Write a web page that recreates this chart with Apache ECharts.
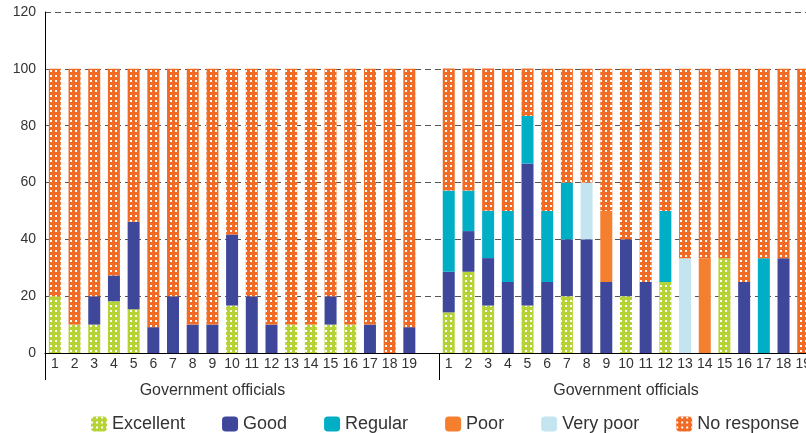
<!DOCTYPE HTML>
<html>
<meta charset="utf-8"/>
<script src="https://cdn.jsdelivr.net/npm/echarts@6/dist/echarts.min.js"></script>
<style>
  body { margin: 0; background: #fff; overflow: hidden; }
</style>
<!-- the original is cropped on the right, so the chart is a bit wider than the window -->
<div id="main" style="width: 814px;height:433px;"></div>
<script>
// tick labels of the two groups (respondents 1..19)
var leftLabels  = ['1','2','3','4','5','6','7','8','9','10','11','12','13','14','15','16','17','18','19'];
var rightLabels = ['1','2','3','4','5','6','7','8','9','10','11','12','13','14','15','16','17','18','19'];
var groupName = 'Government officials';
var yTicks = [0, 20, 40, 60, 80, 100, 120];

// left group, %
var leftExcellent  = [20, 10, 10, 18.2, 15.4, 0, 0, 0, 0, 16.7, 0, 0, 10, 10, 10, 10, 0, 0, 0];
var leftGood       = [0, 0, 10, 9.1, 30.8, 9.1, 20, 10, 10, 25, 20, 10, 0, 0, 10, 0, 10, 0, 9.1];
var leftRegular    = [0, 0, 0, 0, 0, 0, 0, 0, 0, 0, 0, 0, 0, 0, 0, 0, 0, 0, 0];
var leftPoor       = [0, 0, 0, 0, 0, 0, 0, 0, 0, 0, 0, 0, 0, 0, 0, 0, 0, 0, 0];
var leftVeryPoor   = [0, 0, 0, 0, 0, 0, 0, 0, 0, 0, 0, 0, 0, 0, 0, 0, 0, 0, 0];
var leftNoResponse = [80, 90, 80, 72.7, 53.8, 90.9, 80, 90, 90, 58.3, 80, 90, 90, 90, 80, 90, 90, 100, 90.9];

// right group, %
var rightExcellent  = [14.3, 28.6, 16.7, 0, 16.7, 0, 20, 0, 0, 20, 0, 25, 0, 0, 33.3, 0, 0, 0, 0];
var rightGood       = [14.3, 14.3, 16.7, 25, 50, 25, 20, 40, 25, 20, 25, 0, 0, 0, 0, 25, 0, 33.3, 0];
var rightRegular    = [28.6, 14.3, 16.7, 25, 16.7, 25, 20, 0, 0, 0, 0, 25, 0, 0, 0, 0, 33.3, 0, 0];
var rightPoor       = [0, 0, 0, 0, 0, 0, 0, 0, 25, 0, 0, 0, 0, 33.3, 0, 0, 0, 0, 0];
var rightVeryPoor   = [0, 0, 0, 0, 0, 0, 0, 20, 0, 0, 0, 0, 33.3, 0, 0, 0, 0, 0, 0];
var rightNoResponse = [42.9, 42.9, 50, 50, 16.7, 50, 40, 40, 50, 60, 75, 50, 66.7, 66.7, 66.7, 75, 66.7, 66.7, 100];

var seriesNames = ['Excellent', 'Good', 'Regular', 'Poor', 'Very poor', 'No response'];
var colors = ['#b5d334', '#3f479b', '#00afc6', '#f47f2f', '#c4e5ef', '#f26b25'];

// one empty slot between the two groups
var cats = leftLabels.concat(['']).concat(rightLabels);
var groupCats = cats.map(function(){ return ''; });
groupCats[8] = groupName;
groupCats[leftLabels.length + 1 + 9] = groupName;

function join(a, b){ return a.concat(['-']).concat(b); }
var allData = [
  join(leftExcellent, rightExcellent),
  join(leftGood, rightGood),
  join(leftRegular, rightRegular),
  join(leftPoor, rightPoor),
  join(leftVeryPoor, rightVeryPoor),
  join(leftNoResponse, rightNoResponse)
];

var dots = {symbol: 'rect', symbolSize: 1, color: '#ffffff', dashArrayX: [2, 3], dashArrayY: [2, 2.5]};

var font = 'Liberation Sans, Arial, sans-serif';
var myChart = echarts.init(document.getElementById('main'));
var option = {
  animation: false,
  textStyle: {fontFamily: font},
  grid: {left: 45, top: 12, bottom: 80, right: 0},
  legend: {
    left: 91, top: 415, padding: 0,
    itemWidth: 16, itemHeight: 15, itemGap: 37,
    textStyle: {fontSize: 18, color: '#333', fontFamily: font},
    data: seriesNames
  },
  xAxis: [{
    type: 'category', data: cats, position: 'bottom',
    axisLine: {lineStyle: {color: '#000', width: 1}},
    axisTick: {show: false},
    axisLabel: {interval: 0, fontSize: 14, color: '#333', margin: 4}
  }, {
    type: 'category', data: groupCats, position: 'bottom',
    axisLine: {show: false},
    axisTick: {show: true, length: 27, lineStyle: {color: '#000'},
      interval: function(i){ return i === 0 || i === leftLabels.length + 1; }},
    axisLabel: {interval: 0, fontSize: 16, color: '#333', margin: 30}
  }],
  yAxis: {
    type: 'value', min: yTicks[0], max: yTicks[yTicks.length - 1], interval: 20,
    axisLine: {show: true, lineStyle: {color: '#000'}},
    axisTick: {show: false},
    axisLabel: {fontSize: 14, color: '#333', margin: 9},
    splitLine: {lineStyle: {color: '#555', type: [6, 4]}}
  },
  series: seriesNames.map(function(name, k){
    var st = {color: colors[k]};
    if (k === 0 || k === 5) st.decal = dots;
    return {
      name: name, type: 'bar', stack: 'all', barWidth: 12,
      itemStyle: st, data: allData[k]
    };
  })
};
myChart.setOption(option);
</script>
</html>
